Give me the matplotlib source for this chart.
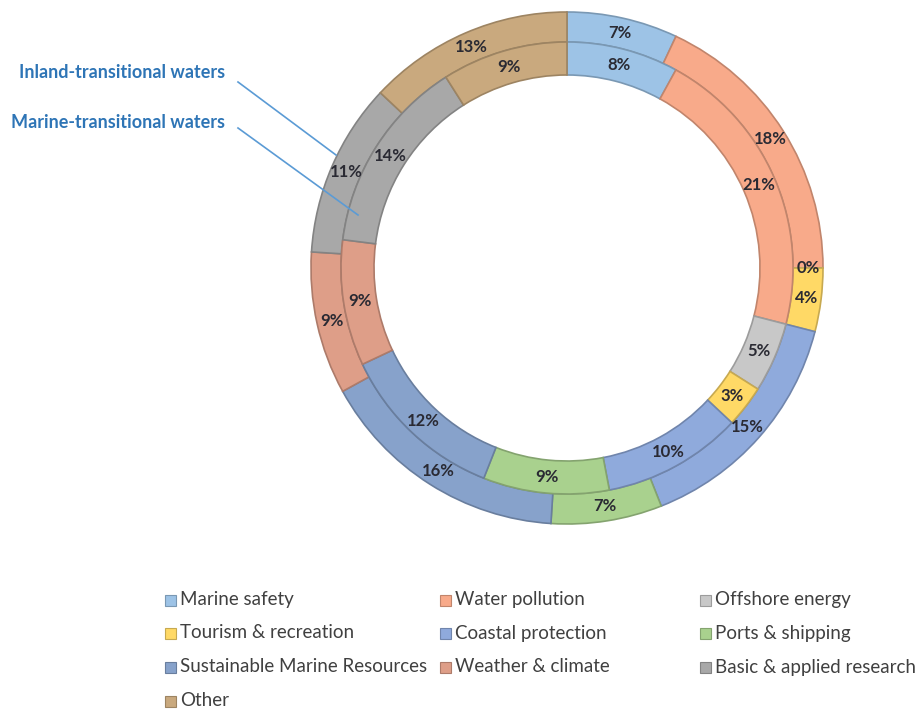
import matplotlib
matplotlib.use('Agg')
import matplotlib.pyplot as plt
from matplotlib.patches import Rectangle
import numpy as np

categories = ['Marine safety', 'Water pollution', 'Offshore energy',
              'Tourism & recreation', 'Coastal protection', 'Ports & shipping',
              'Sustainable Marine Resources', 'Weather & climate',
              'Basic & applied research', 'Other']
inland = [7, 18, 0, 4, 15, 7, 16, 9, 11, 13]    # outer ring
marine = [8, 21, 5, 3, 10, 9, 12, 9, 14, 9]     # inner ring
colors = ['#9DC3E6', '#F8AA8A', '#C8C8C8', '#FFD966', '#8FAADC',
          '#A9D18E', '#87A2CB', '#DE9E88', '#A8A8A8', '#C9A97E']
ring_names = ['Inland-transitional waters', 'Marine-transitional waters']

W, H = 922, 711
plt.rcParams['font.family'] = ['Lato', 'DejaVu Sans']
fig = plt.figure(figsize=(W / 100, H / 100), dpi=100)


def fx(x):
    return x / W


def fy(y):
    return 1 - y / H


def darker(c, f=0.78):
    rgb = np.array(matplotlib.colors.to_rgb(c))
    return tuple(rgb * f)


# donut axes: center (567, 268) px, outer radius 256 px
cx, cy, R = 567, 268, 256
ax = fig.add_axes([fx(cx - R), fy(cy + R), 2 * R / W, 2 * R / H])
r_mid = 226 / R
r_in = 193 / R

fmt = lambda p: '{:.0f}%'.format(p)
txt_kw = dict(fontsize=12, color='#2a2a33', fontweight='bold')

w_out, t_out, a_out = ax.pie(inland, radius=1, startangle=90, counterclock=False,
                             colors=colors, autopct=fmt,
                             pctdistance=(1 + r_mid) / 2,
                             wedgeprops=dict(width=1 - r_mid, linewidth=1.2),
                             textprops=txt_kw)
w_in, t_in, a_in = ax.pie(marine, radius=r_mid, startangle=90, counterclock=False,
                          colors=colors, autopct=fmt,
                          pctdistance=(r_mid + r_in) / 2 / r_mid,
                          wedgeprops=dict(width=r_mid - r_in, linewidth=1.2),
                          textprops=txt_kw)
for wl in (w_out, w_in):
    for w, c in zip(wl, colors):
        w.set_edgecolor(darker(c))
ax.set_xlim(-1, 1)
ax.set_ylim(-1, 1)
ax.set_aspect('equal')
ax.axis('off')

# ring annotations
blue = '#2E75B6'
line_blue = '#5B9BD5'
fig.text(fx(225), fy(72), ring_names[0], ha='right', va='center',
         fontsize=13, color=blue, fontweight='bold')
fig.text(fx(225), fy(122), ring_names[1], ha='right', va='center',
         fontsize=13, color=blue, fontweight='bold')
fig.add_artist(plt.Line2D([fx(238), fx(336)], [fy(82), fy(155)],
                          color=line_blue, lw=1.2))
fig.add_artist(plt.Line2D([fx(238), fx(358)], [fy(128), fy(215)],
                          color=line_blue, lw=1.2))

# legend, laid out row-wise in three columns
col_x = [165, 440, 700]
row_y = [600, 633, 667, 701]
for i, (name, c) in enumerate(zip(categories, colors)):
    x = col_x[i % 3]
    y = row_y[i // 3]
    fig.add_artist(Rectangle((fx(x), fy(y + 6)), 11 / W, 11 / H,
                             facecolor=c, edgecolor=darker(c), lw=0.8,
                             transform=fig.transFigure))
    fig.text(fx(x + 15), fy(y), name, ha='left', va='center',
             fontsize=13.5, color='#404040')

fig.savefig('out.png', dpi=100)
